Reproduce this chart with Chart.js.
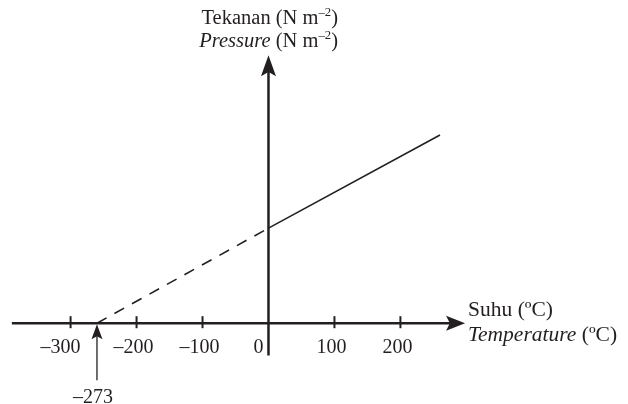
<!DOCTYPE html>
<html>
<head>
<meta charset="utf-8">
<script src="https://cdn.jsdelivr.net/npm/chart.js@4.4.0/dist/chart.umd.min.js"></script>
<style>
  html, body { margin: 0; padding: 0; background: #fff; }
  #wrap { width: 628px; height: 404px; }
</style>
</head>
<body>
<div id="wrap"><canvas id="chart"></canvas></div>
<script>
// Data (pressure in arbitrary units, P = 100 at 0 °C)
const measuredT = [0, 260];
const measuredP = [100, 198];
const extrapT = [-260, 0];
const extrapP = [0, 100];
const tickValues = [-300, -200, -100, 0, 100, 200];
const tickLabels = ['\u2013300', '\u2013200', '\u2013100', '0', '100', '200'];
const absZeroLabel = '\u2013273';

const SERIF = "'Liberation Serif', 'Times New Roman', serif";
const INK = '#231f20';

function toPoints(xs, ys) {
    return xs.map((x, i) => ({ x: x, y: ys[i] }));
}

// draw mixed text runs: [text, italic, superscript]
function drawRuns(ctx, runs, x, y, size) {
    let cx = x;
    runs.forEach(r => {
        const sz = r[2] ? size * 0.62 : size;
        ctx.font = (r[1] ? 'italic ' : '') + sz + 'px ' + SERIF;
        ctx.fillText(r[0], cx, r[2] ? y - size * 0.38 : y);
        cx += ctx.measureText(r[0]).width;
    });
}

function runsWidth(ctx, runs, size) {
    let w = 0;
    runs.forEach(r => {
        const sz = r[2] ? size * 0.62 : size;
        ctx.font = (r[1] ? 'italic ' : '') + sz + 'px ' + SERIF;
        w += ctx.measureText(r[0]).width;
    });
    return w;
}

function arrowHead(ctx, tx, ty, dir, len, half) {
    // dir: 'right' or 'up'
    ctx.beginPath();
    ctx.moveTo(tx, ty);
    if (dir === 'right') {
        ctx.lineTo(tx - len, ty - half);
        ctx.lineTo(tx - len * 0.8, ty);
        ctx.lineTo(tx - len, ty + half);
    } else {
        ctx.lineTo(tx - half, ty + len);
        ctx.lineTo(tx, ty + len * 0.8);
        ctx.lineTo(tx + half, ty + len);
    }
    ctx.closePath();
    ctx.fill();
}

const axesPlugin = {
    id: 'axesPlugin',
    afterDatasetsDraw(chart) {
        const ctx = chart.ctx;
        const xs = chart.scales.x, ys = chart.scales.y;
        const x0 = xs.getPixelForValue(0), y0 = ys.getPixelForValue(0);
        ctx.save();
        ctx.strokeStyle = INK;
        ctx.fillStyle = INK;
        ctx.lineCap = 'butt';

        // x axis
        const xLeft = xs.getPixelForValue(-389);
        const xTip = xs.getPixelForValue(298);
        ctx.lineWidth = 2.5;
        ctx.beginPath();
        ctx.moveTo(xLeft, y0);
        ctx.lineTo(xTip - 10, y0);
        ctx.stroke();
        arrowHead(ctx, xTip, y0, 'right', 19, 7.5);

        // y axis
        const yBottom = ys.getPixelForValue(-34);
        const yTip = ys.getPixelForValue(282);
        ctx.beginPath();
        ctx.moveTo(x0, yBottom);
        ctx.lineTo(x0, yTip + 10);
        ctx.stroke();
        arrowHead(ctx, x0, yTip, 'up', 21, 7.5);

        // ticks and labels
        ctx.lineWidth = 2;
        ctx.font = '20px ' + SERIF;
        ctx.textAlign = 'center';
        ctx.textBaseline = 'alphabetic';
        tickValues.forEach((v, i) => {
            const px = xs.getPixelForValue(v);
            if (v !== 0) {
                ctx.beginPath();
                ctx.moveTo(px, y0 - 7);
                ctx.lineTo(px, y0 + 5);
                ctx.stroke();
            }
            let off = -3;
            if (v === 0 || v === -300) off = -10;
            ctx.fillText(tickLabels[i], px + off, y0 + 30);
        });

        // absolute zero pointer
        const az = xs.getPixelForValue(extrapT[0]);
        ctx.lineWidth = 1.3;
        ctx.beginPath();
        ctx.moveTo(az, y0 + 57);
        ctx.lineTo(az, y0 + 12);
        ctx.stroke();
        arrowHead(ctx, az, y0 + 1, 'up', 15, 5.5);
        ctx.font = '20px ' + SERIF;
        ctx.fillText(absZeroLabel, az - 4, y0 + 80);

        // y axis title
        ctx.textAlign = 'left';
        const t1 = [['Tekanan (N m', false, false], ['\u20132', false, true], [')', false, false]];
        const t2 = [['Pressure', true, false], [' (N m', false, false], ['\u20132', false, true], [')', false, false]];
        const right = 338;
        drawRuns(ctx, t1, right - runsWidth(ctx, t1, 20.5), 24, 20.5);
        drawRuns(ctx, t2, right - runsWidth(ctx, t2, 20.5), 47, 20.5);

        // x axis title
        const s1 = [['Suhu (\u00baC)', false, false]];
        const s2 = [['Temperature', true, false], [' (\u00baC)', false, false]];
        drawRuns(ctx, s1, xTip + 3, 316, 21.5);
        drawRuns(ctx, s2, xTip + 3, 341, 21.5);

        ctx.restore();
    }
};

new Chart(document.getElementById('chart'), {
    type: 'line',
    data: {
        datasets: [
            {
                label: 'Measured',
                data: toPoints(measuredT, measuredP),
                borderColor: INK,
                borderWidth: 1.6,
                pointRadius: 0,
                tension: 0
            },
            {
                label: 'Extrapolated',
                data: toPoints(extrapT, extrapP),
                borderColor: INK,
                borderWidth: 1.6,
                borderDash: [11, 9],
                pointRadius: 0,
                tension: 0
            }
        ]
    },
    options: {
        responsive: true,
        maintainAspectRatio: false,
        animation: false,
        layout: { padding: 0 },
        plugins: {
            legend: { display: false },
            tooltip: { enabled: false },
            title: { display: false }
        },
        scales: {
            x: { type: 'linear', min: -407, max: 545, display: false },
            y: { type: 'linear', min: -85, max: 340, display: false }
        }
    },
    plugins: [axesPlugin]
});
</script>
</body>
</html>
